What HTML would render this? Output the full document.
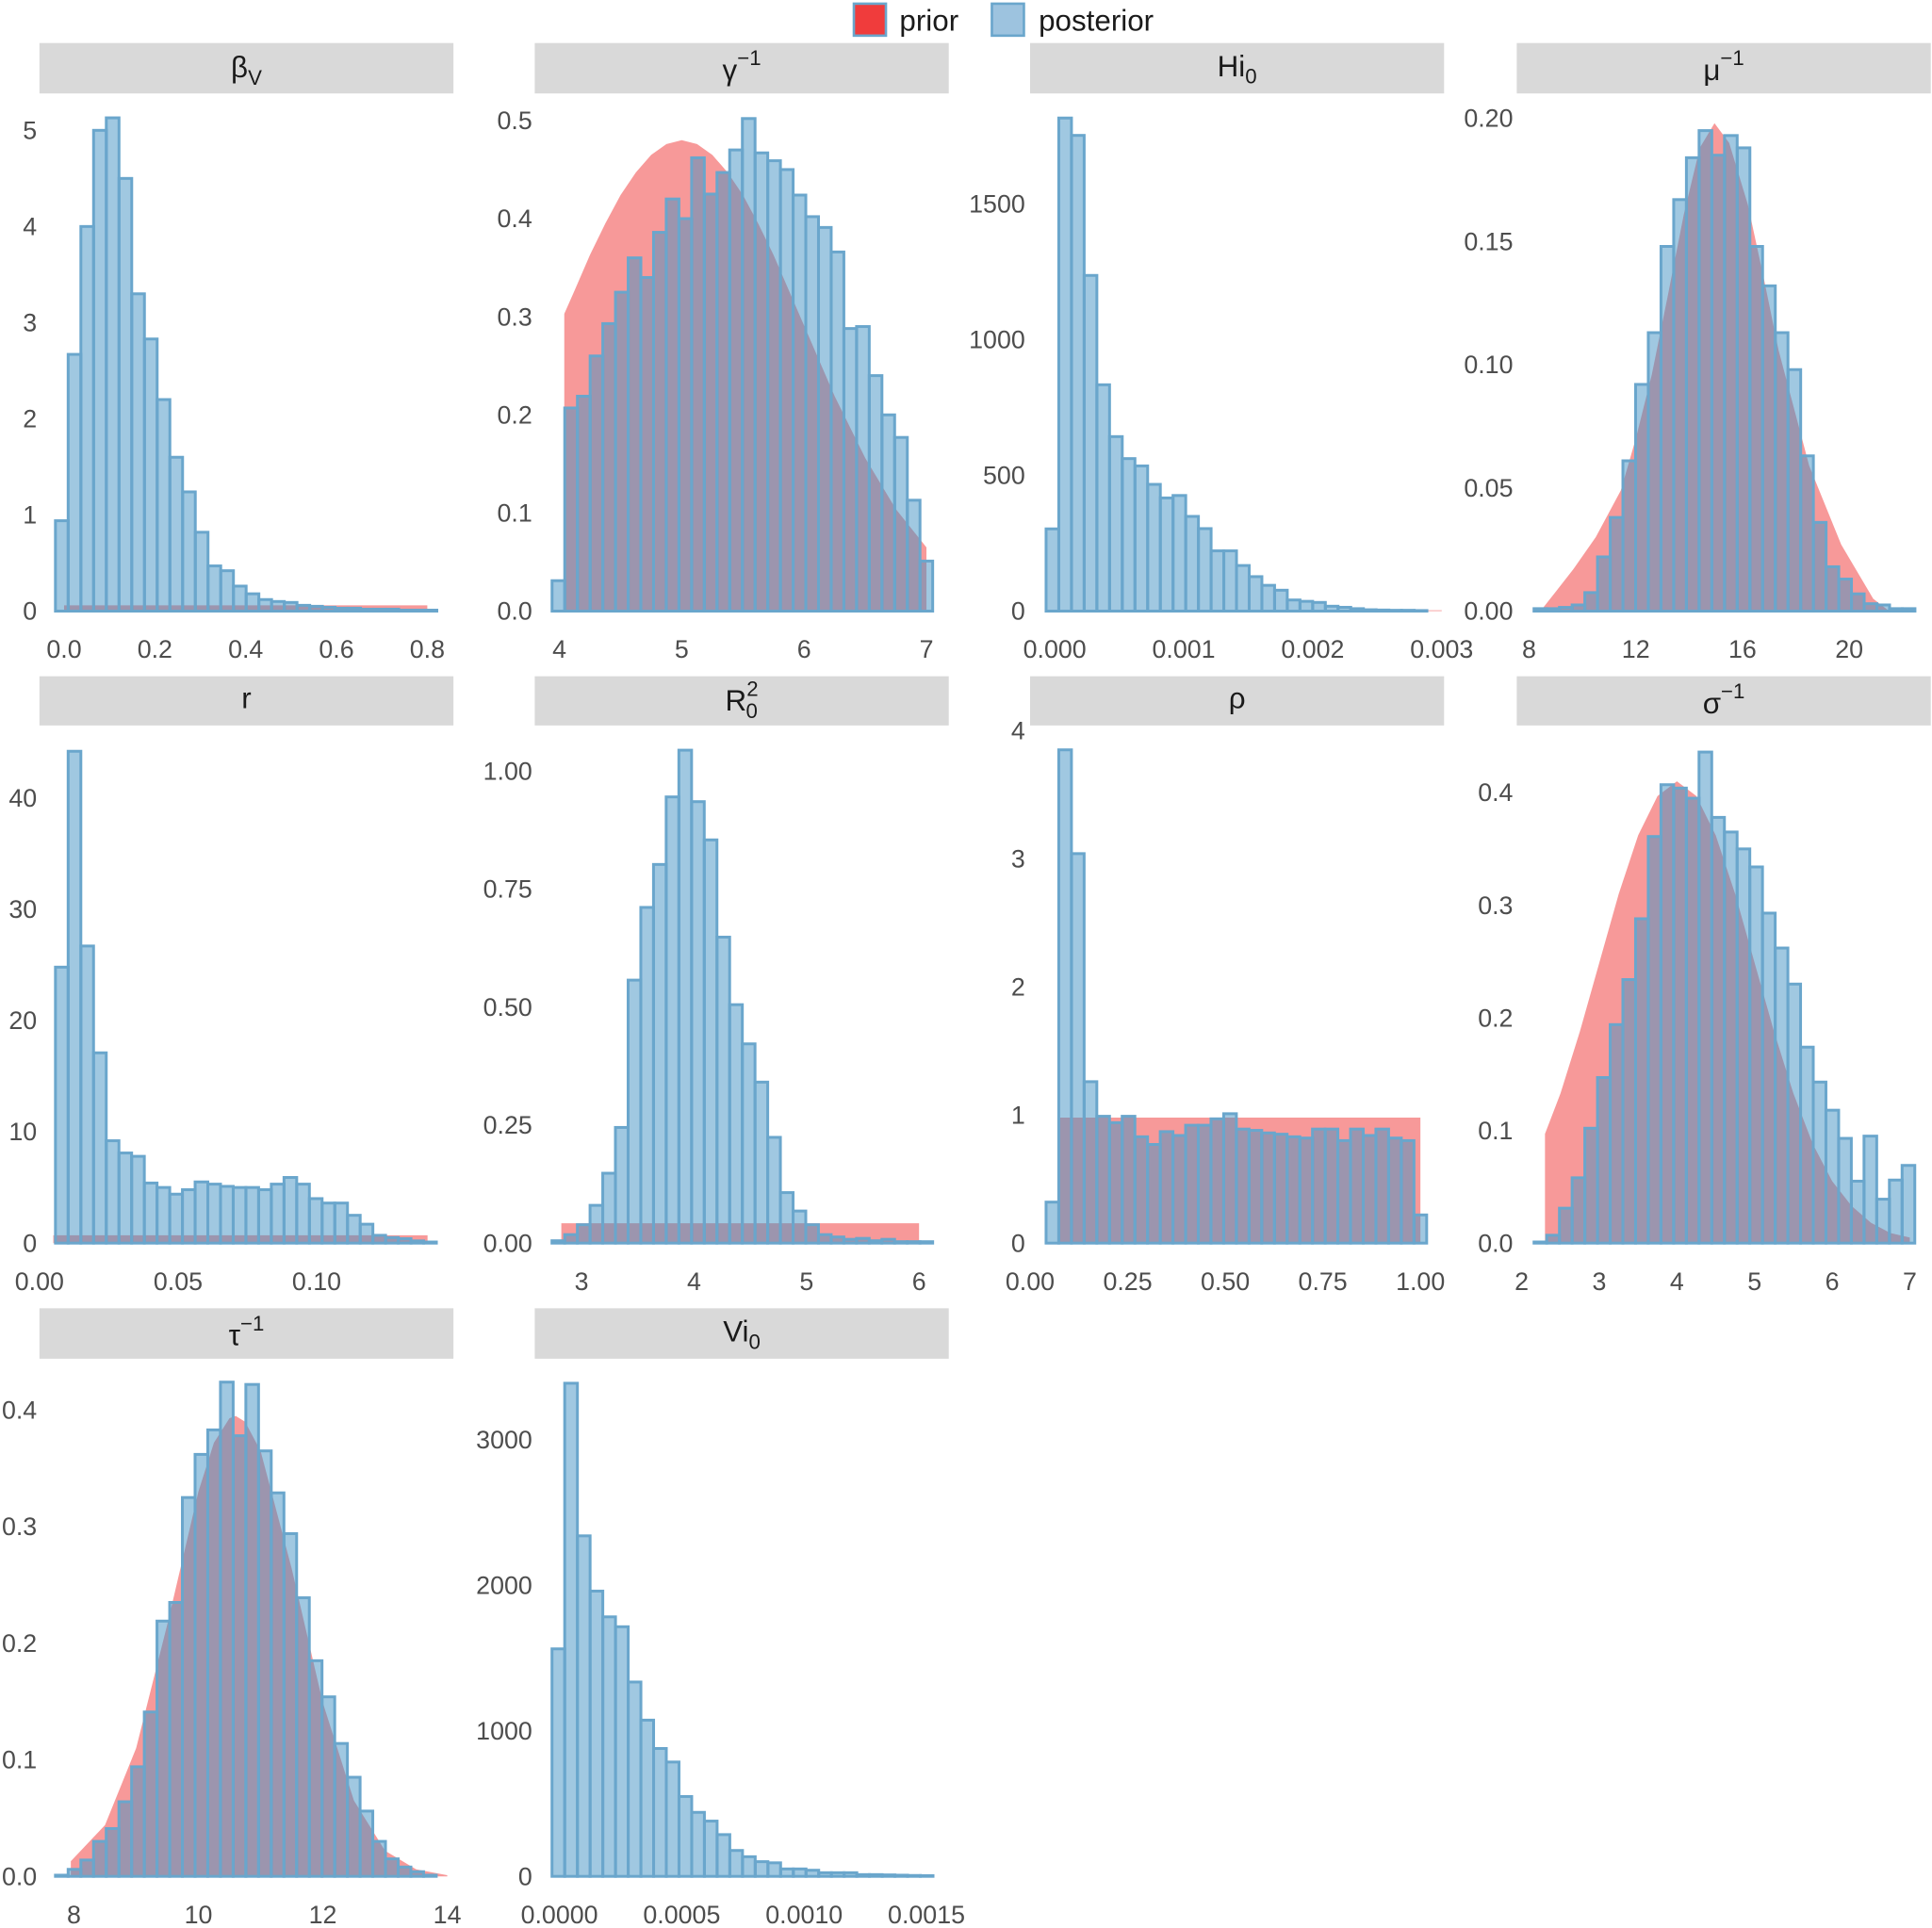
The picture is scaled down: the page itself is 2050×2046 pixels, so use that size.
<!DOCTYPE html>
<html><head><meta charset="utf-8">
<style>
html,body{margin:0;padding:0;background:#fff;}
svg{display:block;font-family:"Liberation Sans",sans-serif;}
.strip{fill:#d9d9d9;}
.st{font-size:24px;fill:#1a1a1a;text-anchor:middle;}
.tk{font-size:20.5px;fill:#4d4d4d;}
</style></head>
<body>
<svg id="chart" width="2050" height="2046" viewBox="0 0 1568 1568" preserveAspectRatio="none" xmlns="http://www.w3.org/2000/svg">
<g>
<rect x="693" y="3" width="26" height="26" fill="#f03c3c" stroke="#6aa6cc" stroke-width="2"/>
<text x="730" y="25" font-size="24" fill="#1a1a1a">prior</text>
<rect x="805" y="3" width="26" height="26" fill="#9dc3df" stroke="#6aa6cc" stroke-width="2"/>
<text x="843" y="25" font-size="24" fill="#1a1a1a">posterior</text>
</g>
<g>
<rect class="strip" x="32" y="35" width="336" height="41"/>
<text class="st" x="200" y="63">β<tspan font-size="17" dy="6">V</tspan></text>
<rect class="strip" x="434" y="35" width="336" height="41"/>
<text class="st" x="602" y="65">γ<tspan font-size="17" dy="-12">−1</tspan></text>
<rect class="strip" x="836" y="35" width="336" height="41"/>
<text class="st" x="1004" y="62">Hi<tspan font-size="17" dy="6">0</tspan></text>
<rect class="strip" x="1231" y="35" width="336" height="41"/>
<text class="st" x="1399" y="65">μ<tspan font-size="17" dy="-12">−1</tspan></text>
<rect class="strip" x="32" y="550" width="336" height="40"/>
<text class="st" x="200" y="576">r</text>
<rect class="strip" x="434" y="550" width="336" height="40"/>
<text class="st" x="602" y="578">R<tspan font-size="17" dy="-12">2</tspan><tspan font-size="17" dx="-10" dy="18">0</tspan></text>
<rect class="strip" x="836" y="550" width="336" height="40"/>
<text class="st" x="1004" y="576">ρ</text>
<rect class="strip" x="1231" y="550" width="336" height="40"/>
<text class="st" x="1399" y="580">σ<tspan font-size="17" dy="-12">−1</tspan></text>
<rect class="strip" x="32" y="1064" width="336" height="41"/>
<text class="st" x="200" y="1094">τ<tspan font-size="17" dy="-12">−1</tspan></text>
<rect class="strip" x="434" y="1064" width="336" height="41"/>
<text class="st" x="602" y="1091">Vi<tspan font-size="17" dy="6">0</tspan></text>
</g>
<g id="plots"></g>
</svg>
<script>
// ---- data arrays ----
const bvCounts=[0.94,2.67,4.0,5.0,5.13,4.5,3.3,2.83,2.2,1.6,1.24,0.82,0.47,0.42,0.26,0.18,0.12,0.1,0.09,0.06,0.05,0.04,0.03,0.03,0.02,0.02,0.02,0.01,0.01,0.01];
const bvPriorX=[0,0.8]; const bvPriorY=[0.06,0.06];
const bvXTicks=[0,0.2,0.4,0.6,0.8]; const bvXLabels=["0.0","0.2","0.4","0.6","0.8"];
const bvYTicks=[0,1,2,3,4,5]; const bvYLabels=["0","1","2","3","4","5"];

const gaCounts=[0.031,0.207,0.219,0.26,0.293,0.325,0.36,0.34,0.386,0.42,0.40,0.462,0.425,0.447,0.47,0.502,0.467,0.459,0.45,0.424,0.402,0.391,0.366,0.288,0.29,0.24,0.2,0.177,0.113,0.051];
const gaPriorX=[4.04,4.125,4.25,4.375,4.5,4.625,4.75,4.875,5,5.125,5.25,5.375,5.5,5.625,5.75,5.875,6,6.25,6.5,6.75,7];
const gaPriorY=[0.303,0.327,0.363,0.395,0.424,0.447,0.465,0.476,0.48,0.476,0.465,0.447,0.424,0.395,0.363,0.327,0.291,0.219,0.156,0.104,0.065];
const gaXTicks=[4,5,6,7]; const gaXLabels=["4","5","6","7"];
const gaYTicks=[0,0.1,0.2,0.3,0.4,0.5]; const gaYLabels=["0.0","0.1","0.2","0.3","0.4","0.5"];

const hiCounts=[303,1817,1753,1237,834,643,562,535,467,417,426,349,304,222,222,168,127,95,77,41,36,32,18,14,9,5,4,3,3,2];
const hiPriorX=[0,0.003]; const hiPriorY=[3,3];
const hiXTicks=[0,0.001,0.002,0.003]; const hiXLabels=["0.000","0.001","0.002","0.003"];
const hiYTicks=[0,500,1000,1500]; const hiYLabels=["0","500","1000","1500"];

const muCounts=[0.001,0.001,0.0015,0.0025,0.0075,0.022,0.038,0.061,0.092,0.113,0.148,0.167,0.184,0.195,0.185,0.193,0.188,0.148,0.132,0.113,0.098,0.063,0.036,0.018,0.013,0.007,0.003,0.0025,0.001,0.001];
const muPriorX=[8.5,9.66,10.5,11.44,12.0,12.6,13.2,13.8,14.4,14.95,15.5,16.2,16.8,17.35,18.5,19.7,20.9,21.5];
const muPriorY=[0.001,0.017,0.03,0.049,0.07,0.096,0.128,0.161,0.188,0.198,0.19,0.165,0.135,0.106,0.059,0.027,0.005,0.0];
const muXTicks=[8,12,16,20]; const muXLabels=["8","12","16","20"];
const muYTicks=[0,0.05,0.1,0.15,0.2]; const muYLabels=["0.00","0.05","0.10","0.15","0.20"];

const rCounts=[24.8,44.2,26.7,17.1,9.2,8.1,7.8,5.4,5.0,4.4,4.8,5.5,5.3,5.1,5.0,5.0,4.8,5.3,5.9,5.3,4.0,3.6,3.6,2.5,1.7,0.7,0.5,0.4,0.2,0.1];
const rPriorX=[0.005,0.14]; const rPriorY=[0.7,0.7];
const rXTicks=[0,0.05,0.1]; const rXLabels=["0.00","0.05","0.10"];
const rYTicks=[0,10,20,30,40]; const rYLabels=["0","10","20","30","40"];

const r0Counts=[0.005,0.018,0.039,0.08,0.148,0.245,0.557,0.711,0.802,0.945,1.044,0.935,0.854,0.648,0.505,0.422,0.341,0.224,0.107,0.068,0.039,0.018,0.013,0.008,0.01,0.005,0.008,0.003,0.003,0.003];
const r0PriorX=[2.82,6.0]; const r0PriorY=[0.042,0.042];
const r0XTicks=[3,4,5,6]; const r0XLabels=["3","4","5","6"];
const r0YTicks=[0,0.25,0.5,0.75,1]; const r0YLabels=["0.00","0.25","0.50","0.75","1.00"];

const rhoCounts=[0.32,3.85,3.04,1.26,0.99,0.94,0.99,0.83,0.77,0.87,0.84,0.92,0.92,0.97,1.01,0.89,0.88,0.86,0.85,0.83,0.82,0.89,0.89,0.8,0.89,0.84,0.89,0.82,0.8,0.22];
const rhoPriorX=[0.07,1.0]; const rhoPriorY=[0.98,0.98];
const rhoXTicks=[0,0.25,0.5,0.75,1]; const rhoXLabels=["0.00","0.25","0.50","0.75","1.00"];
const rhoYTicks=[0,1,2,3,4]; const rhoYLabels=["0","1","2","3","4"];

const siCounts=[0.001,0.007,0.031,0.058,0.102,0.147,0.194,0.234,0.288,0.361,0.407,0.404,0.395,0.436,0.378,0.365,0.35,0.334,0.293,0.262,0.23,0.174,0.143,0.118,0.093,0.055,0.095,0.039,0.056,0.069];
const siPriorX=[2.3,2.5,2.75,3,3.25,3.5,3.75,4,4.25,4.5,4.75,5,5.25,5.5,5.75,6,6.25,6.5,6.75,7];
const siPriorY=[0.097,0.133,0.188,0.249,0.31,0.362,0.397,0.41,0.397,0.362,0.31,0.249,0.188,0.133,0.088,0.055,0.033,0.018,0.009,0.005];
const siXTicks=[2,3,4,5,6,7]; const siXLabels=["2","3","4","5","6","7"];
const siYTicks=[0,0.1,0.2,0.3,0.4]; const siYLabels=["0.0","0.1","0.2","0.3","0.4"];

const taCounts=[0.001,0.006,0.014,0.03,0.041,0.064,0.094,0.141,0.219,0.235,0.325,0.362,0.383,0.424,0.378,0.422,0.365,0.329,0.294,0.239,0.185,0.154,0.114,0.085,0.056,0.03,0.015,0.008,0.004,0.001];
const taPriorX=[7.95,8.5,9,9.5,10,10.25,10.5,10.6,10.75,11,11.5,12,12.5,13,13.5,14];
const taPriorY=[0.013,0.044,0.110,0.216,0.330,0.372,0.393,0.395,0.390,0.365,0.264,0.149,0.065,0.022,0.006,0.001];
const taXTicks=[8,10,12,14]; const taXLabels=["8","10","12","14"];
const taYTicks=[0,0.1,0.2,0.3,0.4]; const taYLabels=["0.0","0.1","0.2","0.3","0.4"];

const viCounts=[1564,3390,2341,1961,1784,1716,1336,1074,879,786,549,440,380,287,178,135,101,93,51,51,42,25,25,25,12,12,10,8,6,5];
const viPriorX=[0,0.0015]; const viPriorY=[4,4];
const viXTicks=[0,0.0005,0.001,0.0015]; const viXLabels=["0.0000","0.0005","0.0010","0.0015"];
const viYTicks=[0,1000,2000,3000]; const viYLabels=["0","1000","2000","3000"];

// ---- layout (pixel mapping per panel) ----
const panels=[
 {id:"beta-v",counts:bvCounts,px:bvPriorX,py:bvPriorY,xt:bvXTicks,xl:bvXLabels,yt:bvYTicks,yl:bvYLabels,v0:0,p0:52,s:368.5,base:497,sy:78.2,bs:-0.019,bw:0.028,left:30},
 {id:"gamma-inv",counts:gaCounts,px:gaPriorX,py:gaPriorY,xt:gaXTicks,xl:gaXLabels,yt:gaYTicks,yl:gaYLabels,v0:4,p0:454,s:99.3,base:497,sy:798,bs:3.94,bw:0.1037,left:432},
 {id:"hi0",counts:hiCounts,px:hiPriorX,py:hiPriorY,xt:hiXTicks,xl:hiXLabels,yt:hiYTicks,yl:hiYLabels,v0:0,p0:856,s:104700,base:497,sy:0.2207,bs:-0.0000669,bw:0.0000984,left:832},
 {id:"mu-inv",counts:muCounts,px:muPriorX,py:muPriorY,xt:muXTicks,xl:muXLabels,yt:muYTicks,yl:muYLabels,v0:8,p0:1241,s:21.65,base:497,sy:2004,bs:8.185,bw:0.476,left:1228},
 {id:"r",counts:rCounts,px:rPriorX,py:rPriorY,xt:rXTicks,xl:rXLabels,yt:rYTicks,yl:rYLabels,v0:0,p0:32,s:2250,base:1011,sy:9.05,bs:0.00578,bw:0.00458,left:30},
 {id:"r0-squared",counts:r0Counts,px:r0PriorX,py:r0PriorY,xt:r0XTicks,xl:r0XLabels,yt:r0YTicks,yl:r0YLabels,v0:3,p0:472,s:91.3,base:1011,sy:384,bs:2.737,bw:0.1128,left:432},
 {id:"rho",counts:rhoCounts,px:rhoPriorX,py:rhoPriorY,xt:rhoXTicks,xl:rhoXLabels,yt:rhoYTicks,yl:rhoYLabels,v0:0,p0:836,s:316.8,base:1011,sy:104.2,bs:0.041,bw:0.0325,left:832},
 {id:"sigma-inv",counts:siCounts,px:siPriorX,py:siPriorY,xt:siXTicks,xl:siXLabels,yt:siYTicks,yl:siYLabels,v0:2,p0:1235,s:63,base:1011,sy:916,bs:2.159,bw:0.1635,left:1228},
 {id:"tau-inv",counts:taCounts,px:taPriorX,py:taPriorY,xt:taXTicks,xl:taXLabels,yt:taYTicks,yl:taYLabels,v0:8,p0:60,s:50.5,base:1526,sy:948,bs:7.703,bw:0.204,left:30},
 {id:"vi0",counts:viCounts,px:viPriorX,py:viPriorY,xt:viXTicks,xl:viXLabels,yt:viYTicks,yl:viYLabels,v0:0,p0:454,s:198600,base:1526,sy:0.1183,bs:-0.0000302,bw:0.0000519,left:432}
];
const NS="http://www.w3.org/2000/svg";
const root=document.getElementById("plots");
function mk(tag,parent){const e=document.createElementNS(NS,tag);parent.appendChild(e);return e;}
panels.forEach(p=>{
  const xs=v=>p.p0+(v-p.v0)*p.s;
  const ys=v=>p.base-v*p.sy;
  const g=mk("g",root);
  
  
  let d="M"+xs(p.px[0])+","+p.base;
  p.px.forEach((x,i)=>{d+=" L"+xs(x)+","+ys(p.py[i]);});
  d+=" L"+xs(p.px[p.px.length-1])+","+p.base+" Z";
  const pr=mk("path",g);
  pr.setAttribute("d",d);
  pr.setAttribute("fill","rgba(240,60,60,0.52)");
  
  
  p.counts.forEach((c,i)=>{
    const x0=xs(p.bs+i*p.bw), w=p.bw*p.s;
    const r=mk("rect",g);
    r.setAttribute("x",x0);r.setAttribute("y",ys(c));
    r.setAttribute("width",w);r.setAttribute("height",Math.max(c*p.sy,0.01));
    r.setAttribute("fill","rgba(65,145,195,0.5)");
    r.setAttribute("stroke","#6aa6cc");r.setAttribute("stroke-width","2.3");
    
    
  });
  p.yt.forEach((v,i)=>{
    const t=mk("text",g);
    t.setAttribute("x",p.left);t.setAttribute("y",ys(v)+7);
    t.setAttribute("text-anchor","end");t.setAttribute("class","tk");
    t.textContent=p.yl[i];
    
    
  });
  p.xt.forEach((v,i)=>{
    const t=mk("text",g);
    t.setAttribute("x",xs(v));t.setAttribute("y",p.base+38);
    t.setAttribute("text-anchor","middle");t.setAttribute("class","tk");
    t.textContent=p.xl[i];
    
    
  });
});
</script>
</body></html>
